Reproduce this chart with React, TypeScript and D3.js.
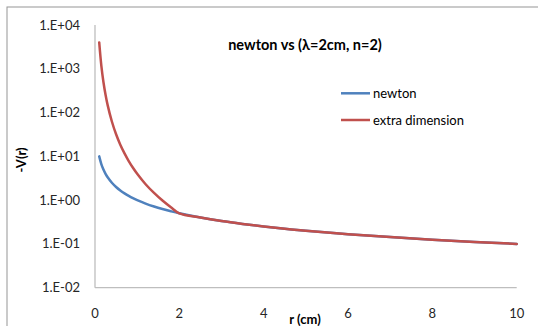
import React from "react";
import * as d3 from "d3";

const rValues = [0.1, 0.15, 0.2, 0.25, 0.3, 0.4, 0.5, 0.6, 0.7, 0.8, 0.9, 1.0, 1.2, 1.4, 1.6, 1.8, 2.0, 2.5, 3, 3.5, 4, 4.5, 5, 6, 7, 8, 9, 10];
const newtonValues = [10, 6.67, 5, 4, 3.33, 2.5, 2, 1.67, 1.43, 1.25, 1.11, 1.0, 0.833, 0.714, 0.625, 0.556, 0.5, 0.4, 0.333, 0.286, 0.25, 0.222, 0.2, 0.167, 0.143, 0.125, 0.111, 0.1];
const extraValues = [4000, 1185, 500, 256, 148, 62.5, 32, 18.5, 11.7, 7.81, 5.49, 4.0, 2.31, 1.46, 0.977, 0.686, 0.5, 0.4, 0.333, 0.286, 0.25, 0.222, 0.2, 0.167, 0.143, 0.125, 0.111, 0.1];
const xTicks = [0, 2, 4, 6, 8, 10];
const yTicks = [1e-2, 1e-1, 1e0, 1e1, 1e2, 1e3, 1e4];
const yTickLabels = ["1.E-02", "1.E-01", "1.E+00", "1.E+01", "1.E+02", "1.E+03", "1.E+04"];
const seriesNames = ["newton", "extra dimension"];
const seriesColors = ["#4F81BD", "#C0504D"];

const W = 538, H = 326;
const plot = { left: 95, right: 516.7, top: 25, bottom: 287.7 };
const font = "Lato, 'Open Sans', sans-serif";

export default function App() {
  const x = d3.scaleLinear().domain([0, 10]).range([plot.left, plot.right]);
  const y = d3.scaleLog().domain([1e-2, 1e4]).range([plot.bottom, plot.top]);
  const line = d3
    .line<[number, number]>()
    .x((d) => x(d[0]))
    .y((d) => y(d[1]))
    .curve(d3.curveCatmullRom.alpha(0.5));
  const series = [newtonValues, extraValues];
  const paths = series.map((vals) => line(rValues.map((r, i) => [r, vals[i]] as [number, number])) || "");

  return (
    <svg width={W} height={H} style={{ position: "absolute", left: 0, top: 0, background: "#fff" }} fontFamily={font}>
      <rect x={7} y={7} width={W} height={H} fill="#fff" stroke="#959595" strokeWidth={1} />
      <line x1={plot.left} x2={plot.left} y1={plot.top} y2={plot.bottom} stroke="#BEBEBE" strokeWidth={1.3} />
      <line x1={plot.left} x2={plot.right} y1={plot.bottom} y2={plot.bottom} stroke="#BEBEBE" strokeWidth={1.3} />
      {yTicks.map((t, i) => (
        <text key={t} x={80} y={y(t)} dy="0.35em" textAnchor="end" fontSize={13} fill="#262626">
          {yTickLabels[i]}
        </text>
      ))}
      {xTicks.map((t) => (
        <text key={t} x={x(t)} y={313} dy="0.35em" textAnchor="middle" fontSize={13} fill="#262626">
          {t}
        </text>
      ))}
      <text x={305} y={319} dy="0.35em" textAnchor="middle" fontSize={13} fontWeight="bold" fill="#000">
        r (cm)
      </text>
      <text transform="translate(21,160) rotate(-90)" dy="0.35em" textAnchor="middle" fontSize={13} fontWeight="bold" fill="#000">
        -V(r)
      </text>
      <text x={305} y={45} dy="0.35em" textAnchor="middle" fontSize={14.5} fontWeight="bold" fill="#000">
        newton vs (λ=2cm, n=2)
      </text>
      {paths.map((p, i) => (
        <path key={i} d={p} fill="none" stroke={seriesColors[i]} strokeWidth={2.5} strokeLinejoin="round" strokeLinecap="round" />
      ))}
      {seriesNames.map((n, i) => (
        <g key={n} transform={`translate(341,${93.3 + i * 26.7})`}>
          <line x1={0} x2={29} y1={0} y2={0} stroke={seriesColors[i]} strokeWidth={2.5} />
          <text x={32} y={0} dy="0.35em" fontSize={13} fill="#000">
            {n}
          </text>
        </g>
      ))}
    </svg>
  );
}
